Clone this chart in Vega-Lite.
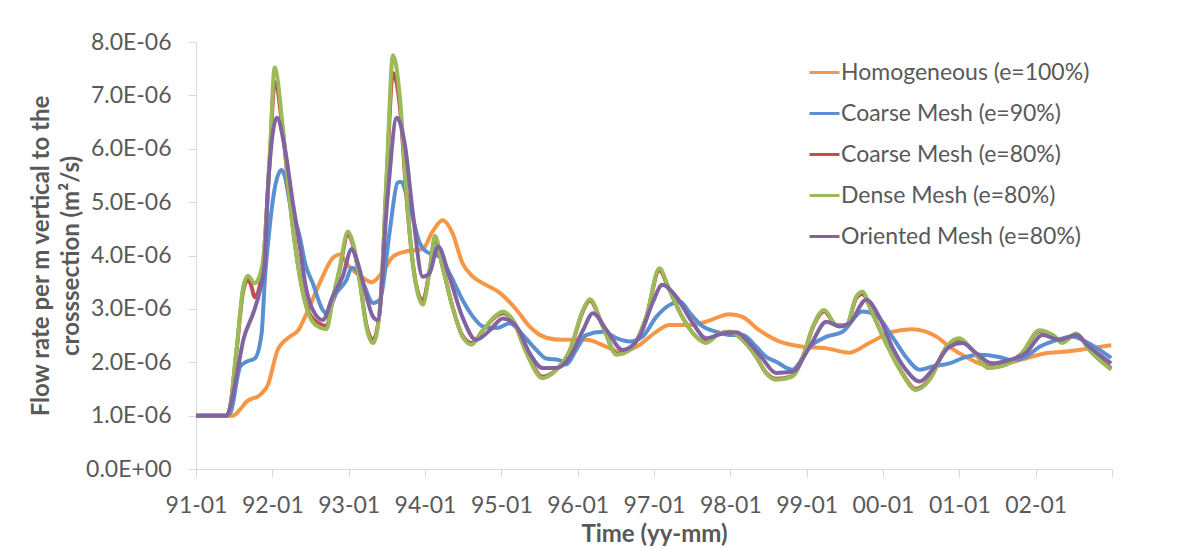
{
  "$schema": "https://vega.github.io/schema/vega-lite/v6.json",
  "width": 916,
  "height": 427,
  "autosize": {"type": "none"},
  "padding": {"left": 196, "top": 42, "right": 65, "bottom": 79},
  "background": "white",
  "config": {"view": {"stroke": null}, "font": "Lato"},
  "datasets": {
    "homog": [
      {"t": 1991.00, "v": 1.00e-6}, {"t": 1991.30, "v": 1.00e-6}, {"t": 1991.48, "v": 1.00e-6}, {"t": 1991.58, "v": 1.12e-6},
      {"t": 1991.66, "v": 1.26e-6}, {"t": 1991.84, "v": 1.39e-6}, {"t": 1991.94, "v": 1.57e-6}, {"t": 1992.07, "v": 2.23e-6},
      {"t": 1992.23, "v": 2.48e-6}, {"t": 1992.34, "v": 2.60e-6}, {"t": 1992.45, "v": 2.92e-6}, {"t": 1992.62, "v": 3.48e-6},
      {"t": 1992.79, "v": 3.95e-6}, {"t": 1992.88, "v": 4.02e-6}, {"t": 1993.00, "v": 3.80e-6}, {"t": 1993.15, "v": 3.62e-6},
      {"t": 1993.30, "v": 3.50e-6}, {"t": 1993.45, "v": 3.70e-6}, {"t": 1993.58, "v": 3.98e-6}, {"t": 1993.76, "v": 4.08e-6},
      {"t": 1993.97, "v": 4.12e-6}, {"t": 1994.10, "v": 4.45e-6}, {"t": 1994.23, "v": 4.66e-6}, {"t": 1994.36, "v": 4.42e-6},
      {"t": 1994.49, "v": 3.86e-6}, {"t": 1994.63, "v": 3.60e-6}, {"t": 1994.80, "v": 3.45e-6}, {"t": 1994.98, "v": 3.30e-6},
      {"t": 1995.20, "v": 2.98e-6}, {"t": 1995.37, "v": 2.67e-6}, {"t": 1995.59, "v": 2.46e-6}, {"t": 1995.80, "v": 2.42e-6},
      {"t": 1996.11, "v": 2.42e-6}, {"t": 1996.38, "v": 2.29e-6}, {"t": 1996.55, "v": 2.20e-6}, {"t": 1996.77, "v": 2.29e-6},
      {"t": 1997.03, "v": 2.57e-6}, {"t": 1997.20, "v": 2.70e-6}, {"t": 1997.47, "v": 2.70e-6}, {"t": 1997.68, "v": 2.76e-6},
      {"t": 1997.99, "v": 2.90e-6}, {"t": 1998.16, "v": 2.85e-6}, {"t": 1998.38, "v": 2.60e-6}, {"t": 1998.64, "v": 2.39e-6},
      {"t": 1998.95, "v": 2.29e-6}, {"t": 1999.26, "v": 2.26e-6}, {"t": 1999.56, "v": 2.18e-6}, {"t": 1999.82, "v": 2.36e-6},
      {"t": 2000.12, "v": 2.57e-6}, {"t": 2000.38, "v": 2.62e-6}, {"t": 2000.70, "v": 2.48e-6}, {"t": 2000.87, "v": 2.29e-6},
      {"t": 2001.09, "v": 2.10e-6}, {"t": 2001.35, "v": 1.95e-6}, {"t": 2001.61, "v": 1.98e-6}, {"t": 2001.87, "v": 2.07e-6},
      {"t": 2002.13, "v": 2.17e-6}, {"t": 2002.40, "v": 2.20e-6}, {"t": 2002.70, "v": 2.26e-6}, {"t": 2002.99, "v": 2.32e-6}
    ],
    "coarse90": [
      {"t": 1991.00, "v": 1.00e-6}, {"t": 1991.40, "v": 1.00e-6}, {"t": 1991.45, "v": 1.05e-6}, {"t": 1991.58, "v": 1.92e-6},
      {"t": 1991.66, "v": 2.01e-6}, {"t": 1991.77, "v": 2.07e-6}, {"t": 1991.86, "v": 2.55e-6}, {"t": 1991.90, "v": 3.50e-6},
      {"t": 1991.97, "v": 4.60e-6}, {"t": 1992.03, "v": 5.25e-6}, {"t": 1992.12, "v": 5.60e-6}, {"t": 1992.16, "v": 5.50e-6},
      {"t": 1992.23, "v": 4.98e-6}, {"t": 1992.36, "v": 4.35e-6}, {"t": 1992.43, "v": 3.85e-6}, {"t": 1992.53, "v": 3.48e-6},
      {"t": 1992.66, "v": 2.98e-6}, {"t": 1992.71, "v": 2.92e-6}, {"t": 1992.84, "v": 3.30e-6}, {"t": 1992.97, "v": 3.54e-6},
      {"t": 1993.04, "v": 3.77e-6}, {"t": 1993.10, "v": 3.72e-6}, {"t": 1993.19, "v": 3.48e-6}, {"t": 1993.32, "v": 3.11e-6},
      {"t": 1993.41, "v": 3.17e-6}, {"t": 1993.54, "v": 4.48e-6}, {"t": 1993.64, "v": 5.36e-6}, {"t": 1993.68, "v": 5.38e-6},
      {"t": 1993.80, "v": 4.92e-6}, {"t": 1993.93, "v": 4.24e-6}, {"t": 1994.02, "v": 4.07e-6}, {"t": 1994.19, "v": 3.98e-6},
      {"t": 1994.32, "v": 3.67e-6}, {"t": 1994.49, "v": 3.17e-6}, {"t": 1994.63, "v": 2.85e-6}, {"t": 1994.76, "v": 2.67e-6},
      {"t": 1994.94, "v": 2.64e-6}, {"t": 1995.11, "v": 2.73e-6}, {"t": 1995.28, "v": 2.51e-6}, {"t": 1995.46, "v": 2.23e-6},
      {"t": 1995.59, "v": 2.07e-6}, {"t": 1995.76, "v": 2.04e-6}, {"t": 1995.85, "v": 1.96e-6}, {"t": 1995.98, "v": 2.23e-6},
      {"t": 1996.11, "v": 2.51e-6}, {"t": 1996.33, "v": 2.57e-6}, {"t": 1996.51, "v": 2.45e-6}, {"t": 1996.68, "v": 2.39e-6},
      {"t": 1996.85, "v": 2.48e-6}, {"t": 1997.03, "v": 2.85e-6}, {"t": 1997.20, "v": 3.07e-6}, {"t": 1997.34, "v": 3.14e-6},
      {"t": 1997.47, "v": 2.92e-6}, {"t": 1997.64, "v": 2.67e-6}, {"t": 1997.82, "v": 2.57e-6}, {"t": 1997.99, "v": 2.51e-6},
      {"t": 1998.16, "v": 2.51e-6}, {"t": 1998.34, "v": 2.29e-6}, {"t": 1998.47, "v": 2.10e-6}, {"t": 1998.60, "v": 2.01e-6},
      {"t": 1998.81, "v": 1.86e-6}, {"t": 1999.04, "v": 2.29e-6}, {"t": 1999.26, "v": 2.48e-6}, {"t": 1999.47, "v": 2.57e-6},
      {"t": 1999.73, "v": 2.95e-6}, {"t": 1999.91, "v": 2.88e-6}, {"t": 2000.12, "v": 2.48e-6}, {"t": 2000.30, "v": 2.10e-6},
      {"t": 2000.48, "v": 1.86e-6}, {"t": 2000.65, "v": 1.92e-6}, {"t": 2000.87, "v": 1.98e-6}, {"t": 2001.09, "v": 2.10e-6},
      {"t": 2001.26, "v": 2.14e-6}, {"t": 2001.52, "v": 2.10e-6}, {"t": 2001.69, "v": 2.04e-6}, {"t": 2001.87, "v": 2.10e-6},
      {"t": 2002.05, "v": 2.29e-6}, {"t": 2002.22, "v": 2.39e-6}, {"t": 2002.48, "v": 2.48e-6}, {"t": 2002.74, "v": 2.32e-6},
      {"t": 2002.99, "v": 2.08e-6}
    ],
    "coarse80": [
      {"t": 1991.00, "v": 1.00e-6}, {"t": 1991.40, "v": 1.00e-6}, {"t": 1991.43, "v": 1.05e-6}, {"t": 1991.53, "v": 2.20e-6},
      {"t": 1991.62, "v": 3.35e-6}, {"t": 1991.68, "v": 3.55e-6}, {"t": 1991.72, "v": 3.45e-6}, {"t": 1991.77, "v": 3.22e-6},
      {"t": 1991.81, "v": 3.30e-6}, {"t": 1991.88, "v": 3.85e-6}, {"t": 1991.97, "v": 5.90e-6}, {"t": 1992.03, "v": 7.25e-6},
      {"t": 1992.14, "v": 6.30e-6}, {"t": 1992.23, "v": 5.00e-6}, {"t": 1992.36, "v": 3.62e-6}, {"t": 1992.49, "v": 2.90e-6},
      {"t": 1992.62, "v": 2.72e-6}, {"t": 1992.71, "v": 2.68e-6}, {"t": 1992.79, "v": 3.17e-6}, {"t": 1992.88, "v": 3.72e-6},
      {"t": 1992.99, "v": 4.38e-6}, {"t": 1993.06, "v": 4.18e-6}, {"t": 1993.15, "v": 3.48e-6}, {"t": 1993.23, "v": 2.72e-6},
      {"t": 1993.32, "v": 2.42e-6}, {"t": 1993.41, "v": 3.00e-6}, {"t": 1993.50, "v": 5.50e-6}, {"t": 1993.58, "v": 7.42e-6},
      {"t": 1993.67, "v": 6.80e-6}, {"t": 1993.76, "v": 5.05e-6}, {"t": 1993.84, "v": 3.86e-6}, {"t": 1993.93, "v": 3.22e-6},
      {"t": 1993.97, "v": 3.15e-6}, {"t": 1994.06, "v": 3.72e-6}, {"t": 1994.13, "v": 4.30e-6}, {"t": 1994.23, "v": 3.79e-6},
      {"t": 1994.36, "v": 3.04e-6}, {"t": 1994.49, "v": 2.50e-6}, {"t": 1994.61, "v": 2.36e-6}, {"t": 1994.76, "v": 2.60e-6},
      {"t": 1994.94, "v": 2.87e-6}, {"t": 1995.02, "v": 2.92e-6}, {"t": 1995.15, "v": 2.79e-6}, {"t": 1995.33, "v": 2.19e-6},
      {"t": 1995.54, "v": 1.73e-6}, {"t": 1995.72, "v": 1.86e-6}, {"t": 1995.90, "v": 2.23e-6}, {"t": 1996.07, "v": 2.96e-6},
      {"t": 1996.16, "v": 3.15e-6}, {"t": 1996.33, "v": 2.67e-6}, {"t": 1996.51, "v": 2.16e-6}, {"t": 1996.68, "v": 2.23e-6},
      {"t": 1996.90, "v": 2.85e-6}, {"t": 1997.07, "v": 3.72e-6}, {"t": 1997.20, "v": 3.36e-6}, {"t": 1997.37, "v": 2.85e-6},
      {"t": 1997.55, "v": 2.48e-6}, {"t": 1997.68, "v": 2.38e-6}, {"t": 1997.86, "v": 2.54e-6}, {"t": 1997.99, "v": 2.57e-6},
      {"t": 1998.16, "v": 2.42e-6}, {"t": 1998.34, "v": 2.10e-6}, {"t": 1998.47, "v": 1.80e-6}, {"t": 1998.60, "v": 1.69e-6},
      {"t": 1998.81, "v": 1.74e-6}, {"t": 1998.95, "v": 2.10e-6}, {"t": 1999.08, "v": 2.65e-6}, {"t": 1999.23, "v": 2.95e-6},
      {"t": 1999.39, "v": 2.70e-6}, {"t": 1999.52, "v": 2.70e-6}, {"t": 1999.65, "v": 3.20e-6}, {"t": 1999.73, "v": 3.28e-6},
      {"t": 1999.86, "v": 2.92e-6}, {"t": 2000.04, "v": 2.36e-6}, {"t": 2000.25, "v": 1.80e-6}, {"t": 2000.43, "v": 1.50e-6},
      {"t": 2000.61, "v": 1.68e-6}, {"t": 2000.83, "v": 2.28e-6}, {"t": 2001.00, "v": 2.42e-6}, {"t": 2001.17, "v": 2.23e-6},
      {"t": 2001.39, "v": 1.90e-6}, {"t": 2001.61, "v": 1.96e-6}, {"t": 2001.82, "v": 2.17e-6}, {"t": 2002.05, "v": 2.58e-6},
      {"t": 2002.22, "v": 2.51e-6}, {"t": 2002.35, "v": 2.38e-6}, {"t": 2002.53, "v": 2.53e-6}, {"t": 2002.70, "v": 2.25e-6},
      {"t": 2002.99, "v": 1.88e-6}
    ],
    "dense": [
      {"t": 1991.00, "v": 1.00e-6}, {"t": 1991.40, "v": 1.00e-6}, {"t": 1991.43, "v": 1.05e-6}, {"t": 1991.53, "v": 2.23e-6},
      {"t": 1991.62, "v": 3.42e-6}, {"t": 1991.68, "v": 3.62e-6}, {"t": 1991.77, "v": 3.48e-6}, {"t": 1991.81, "v": 3.54e-6},
      {"t": 1991.88, "v": 3.92e-6}, {"t": 1991.97, "v": 6.00e-6}, {"t": 1992.03, "v": 7.52e-6}, {"t": 1992.14, "v": 6.35e-6},
      {"t": 1992.23, "v": 5.00e-6}, {"t": 1992.36, "v": 3.60e-6}, {"t": 1992.49, "v": 2.85e-6}, {"t": 1992.62, "v": 2.65e-6},
      {"t": 1992.71, "v": 2.62e-6}, {"t": 1992.79, "v": 3.17e-6}, {"t": 1992.88, "v": 3.75e-6}, {"t": 1992.99, "v": 4.45e-6},
      {"t": 1993.06, "v": 4.22e-6}, {"t": 1993.15, "v": 3.48e-6}, {"t": 1993.23, "v": 2.67e-6}, {"t": 1993.32, "v": 2.36e-6},
      {"t": 1993.41, "v": 3.00e-6}, {"t": 1993.50, "v": 5.60e-6}, {"t": 1993.58, "v": 7.75e-6}, {"t": 1993.67, "v": 6.98e-6},
      {"t": 1993.76, "v": 5.10e-6}, {"t": 1993.84, "v": 3.86e-6}, {"t": 1993.93, "v": 3.17e-6}, {"t": 1993.97, "v": 3.08e-6},
      {"t": 1994.06, "v": 3.70e-6}, {"t": 1994.13, "v": 4.37e-6}, {"t": 1994.23, "v": 3.79e-6}, {"t": 1994.36, "v": 3.04e-6},
      {"t": 1994.49, "v": 2.48e-6}, {"t": 1994.61, "v": 2.33e-6}, {"t": 1994.76, "v": 2.60e-6}, {"t": 1994.94, "v": 2.89e-6},
      {"t": 1995.02, "v": 2.95e-6}, {"t": 1995.15, "v": 2.79e-6}, {"t": 1995.33, "v": 2.17e-6}, {"t": 1995.54, "v": 1.70e-6},
      {"t": 1995.72, "v": 1.86e-6}, {"t": 1995.90, "v": 2.23e-6}, {"t": 1996.07, "v": 2.98e-6}, {"t": 1996.16, "v": 3.18e-6},
      {"t": 1996.33, "v": 2.67e-6}, {"t": 1996.51, "v": 2.14e-6}, {"t": 1996.68, "v": 2.23e-6}, {"t": 1996.90, "v": 2.85e-6},
      {"t": 1997.07, "v": 3.76e-6}, {"t": 1997.20, "v": 3.36e-6}, {"t": 1997.37, "v": 2.85e-6}, {"t": 1997.55, "v": 2.48e-6},
      {"t": 1997.68, "v": 2.36e-6}, {"t": 1997.86, "v": 2.54e-6}, {"t": 1997.99, "v": 2.57e-6}, {"t": 1998.16, "v": 2.42e-6},
      {"t": 1998.34, "v": 2.10e-6}, {"t": 1998.47, "v": 1.79e-6}, {"t": 1998.60, "v": 1.67e-6}, {"t": 1998.81, "v": 1.73e-6},
      {"t": 1998.95, "v": 2.10e-6}, {"t": 1999.08, "v": 2.67e-6}, {"t": 1999.23, "v": 2.98e-6}, {"t": 1999.39, "v": 2.70e-6},
      {"t": 1999.52, "v": 2.70e-6}, {"t": 1999.65, "v": 3.23e-6}, {"t": 1999.73, "v": 3.32e-6}, {"t": 1999.86, "v": 2.92e-6},
      {"t": 2000.04, "v": 2.36e-6}, {"t": 2000.25, "v": 1.79e-6}, {"t": 2000.43, "v": 1.48e-6}, {"t": 2000.61, "v": 1.67e-6},
      {"t": 2000.83, "v": 2.29e-6}, {"t": 2001.00, "v": 2.45e-6}, {"t": 2001.17, "v": 2.23e-6}, {"t": 2001.39, "v": 1.89e-6},
      {"t": 2001.61, "v": 1.95e-6}, {"t": 2001.82, "v": 2.17e-6}, {"t": 2002.05, "v": 2.60e-6}, {"t": 2002.22, "v": 2.51e-6},
      {"t": 2002.35, "v": 2.36e-6}, {"t": 2002.53, "v": 2.54e-6}, {"t": 2002.70, "v": 2.23e-6}, {"t": 2002.99, "v": 1.86e-6}
    ],
    "oriented": [
      {"t": 1991.00, "v": 1.00e-6}, {"t": 1991.40, "v": 1.00e-6}, {"t": 1991.45, "v": 1.17e-6}, {"t": 1991.53, "v": 1.73e-6},
      {"t": 1991.62, "v": 2.42e-6}, {"t": 1991.75, "v": 2.92e-6}, {"t": 1991.84, "v": 3.36e-6}, {"t": 1991.90, "v": 3.86e-6},
      {"t": 1991.94, "v": 5.20e-6}, {"t": 1992.06, "v": 6.58e-6}, {"t": 1992.16, "v": 6.04e-6}, {"t": 1992.27, "v": 4.98e-6},
      {"t": 1992.36, "v": 4.17e-6}, {"t": 1992.43, "v": 3.48e-6}, {"t": 1992.53, "v": 2.98e-6}, {"t": 1992.66, "v": 2.79e-6},
      {"t": 1992.79, "v": 3.23e-6}, {"t": 1992.92, "v": 3.60e-6}, {"t": 1993.04, "v": 4.12e-6}, {"t": 1993.10, "v": 3.95e-6},
      {"t": 1993.19, "v": 3.48e-6}, {"t": 1993.32, "v": 2.85e-6}, {"t": 1993.38, "v": 2.79e-6}, {"t": 1993.51, "v": 5.10e-6},
      {"t": 1993.63, "v": 6.58e-6}, {"t": 1993.74, "v": 6.04e-6}, {"t": 1993.84, "v": 4.80e-6}, {"t": 1993.97, "v": 3.60e-6},
      {"t": 1994.06, "v": 3.67e-6}, {"t": 1994.17, "v": 4.17e-6}, {"t": 1994.32, "v": 3.60e-6}, {"t": 1994.49, "v": 2.85e-6},
      {"t": 1994.67, "v": 2.42e-6}, {"t": 1994.85, "v": 2.60e-6}, {"t": 1995.02, "v": 2.82e-6}, {"t": 1995.20, "v": 2.67e-6},
      {"t": 1995.37, "v": 2.17e-6}, {"t": 1995.54, "v": 1.89e-6}, {"t": 1995.72, "v": 1.89e-6}, {"t": 1995.90, "v": 2.10e-6},
      {"t": 1996.07, "v": 2.60e-6}, {"t": 1996.20, "v": 2.92e-6}, {"t": 1996.38, "v": 2.60e-6}, {"t": 1996.59, "v": 2.23e-6},
      {"t": 1996.81, "v": 2.48e-6}, {"t": 1996.98, "v": 3.11e-6}, {"t": 1997.11, "v": 3.45e-6}, {"t": 1997.29, "v": 3.23e-6},
      {"t": 1997.51, "v": 2.73e-6}, {"t": 1997.68, "v": 2.45e-6}, {"t": 1997.90, "v": 2.54e-6}, {"t": 1998.08, "v": 2.56e-6},
      {"t": 1998.25, "v": 2.36e-6}, {"t": 1998.42, "v": 2.07e-6}, {"t": 1998.60, "v": 1.80e-6}, {"t": 1998.81, "v": 1.82e-6},
      {"t": 1999.04, "v": 2.29e-6}, {"t": 1999.26, "v": 2.76e-6}, {"t": 1999.43, "v": 2.67e-6}, {"t": 1999.56, "v": 2.73e-6},
      {"t": 1999.78, "v": 3.17e-6}, {"t": 1999.95, "v": 2.85e-6}, {"t": 2000.12, "v": 2.29e-6}, {"t": 2000.30, "v": 1.86e-6},
      {"t": 2000.48, "v": 1.64e-6}, {"t": 2000.65, "v": 1.86e-6}, {"t": 2000.87, "v": 2.29e-6}, {"t": 2001.04, "v": 2.36e-6},
      {"t": 2001.22, "v": 2.17e-6}, {"t": 2001.43, "v": 1.98e-6}, {"t": 2001.65, "v": 2.04e-6}, {"t": 2001.87, "v": 2.17e-6},
      {"t": 2002.09, "v": 2.51e-6}, {"t": 2002.31, "v": 2.42e-6}, {"t": 2002.53, "v": 2.51e-6}, {"t": 2002.70, "v": 2.29e-6},
      {"t": 2002.99, "v": 1.98e-6}
    ]
  },
  "encoding": {
    "x": {
      "field": "t",
      "type": "quantitative",
      "scale": {"domain": [1991, 2003], "nice": false, "zero": false},
      "axis": {
        "values": [1991, 1992, 1993, 1994, 1995, 1996, 1997, 1998, 1999, 2000, 2001, 2002, 2003],
        "labelExpr": "datum.value == 2003 ? '' : slice(toString(datum.value), 2) + '-01'",
        "title": "Time (yy-mm)",
        "grid": false,
        "domainColor": "#d9d9d9",
        "tickColor": "#d9d9d9",
        "tickSize": 8,
        "labelFontSize": 23,
        "labelColor": "#595959",
        "labelPadding": 17,
        "labelFlush": false,
        "labelOverlap": false,
        "titleFontSize": 24,
        "titleFontWeight": "bold",
        "titleColor": "#595959",
        "titlePadding": 5
      }
    },
    "y": {
      "field": "v",
      "type": "quantitative",
      "scale": {"domain": [0, 8e-6], "nice": false},
      "axis": {
        "values": [0, 1e-6, 2e-6, 3e-6, 4e-6, 5e-6, 6e-6, 7e-6, 8e-6],
        "labelExpr": "datum.value == 0 ? '0.0E+00' : format(datum.value * 1e6, '.1f') + 'E-06'",
        "title": ["Flow rate per m vertical to the", "crosssection (m²/s)"],
        "grid": false,
        "domainColor": "#d9d9d9",
        "tickColor": "#d9d9d9",
        "tickSize": 8,
        "labelFontSize": 23,
        "labelColor": "#595959",
        "labelPadding": 17,
        "titleFontSize": 24,
        "titleFontWeight": "bold",
        "titleColor": "#595959",
        "titleLineHeight": 30,
        "titlePadding": 2
      }
    },
    "color": {
      "type": "nominal",
      "scale": {
        "domain": ["Homogeneous (e=100%)", "Coarse Mesh (e=90%)", "Coarse Mesh (e=80%)", "Dense Mesh (e=80%)", "Oriented Mesh (e=80%)"],
        "range": ["#F79646", "#5A8FD0", "#C0504D", "#9BBB59", "#8064A2"]
      },
      "legend": {
        "orient": "none",
        "legendX": 612,
        "legendY": 14,
        "title": null,
        "padding": 0,
        "symbolType": "stroke",
        "symbolSize": 900,
        "symbolStrokeWidth": 3,
        "labelFontSize": 23,
        "labelColor": "#595959",
        "labelOffset": 0,
        "rowPadding": 12,
        "labelLimit": 400
      }
    }
  },
  "layer": [
    {"data": {"name": "homog"}, "mark": {"type": "line", "interpolate": "monotone", "strokeWidth": 4}, "encoding": {"color": {"datum": "Homogeneous (e=100%)"}}},
    {"data": {"name": "coarse90"}, "mark": {"type": "line", "interpolate": "monotone", "strokeWidth": 4}, "encoding": {"color": {"datum": "Coarse Mesh (e=90%)"}}},
    {"data": {"name": "coarse80"}, "mark": {"type": "line", "interpolate": "monotone", "strokeWidth": 4}, "encoding": {"color": {"datum": "Coarse Mesh (e=80%)"}}},
    {"data": {"name": "dense"}, "mark": {"type": "line", "interpolate": "monotone", "strokeWidth": 4}, "encoding": {"color": {"datum": "Dense Mesh (e=80%)"}}},
    {"data": {"name": "oriented"}, "mark": {"type": "line", "interpolate": "monotone", "strokeWidth": 4}, "encoding": {"color": {"datum": "Oriented Mesh (e=80%)"}}}
  ]
}
